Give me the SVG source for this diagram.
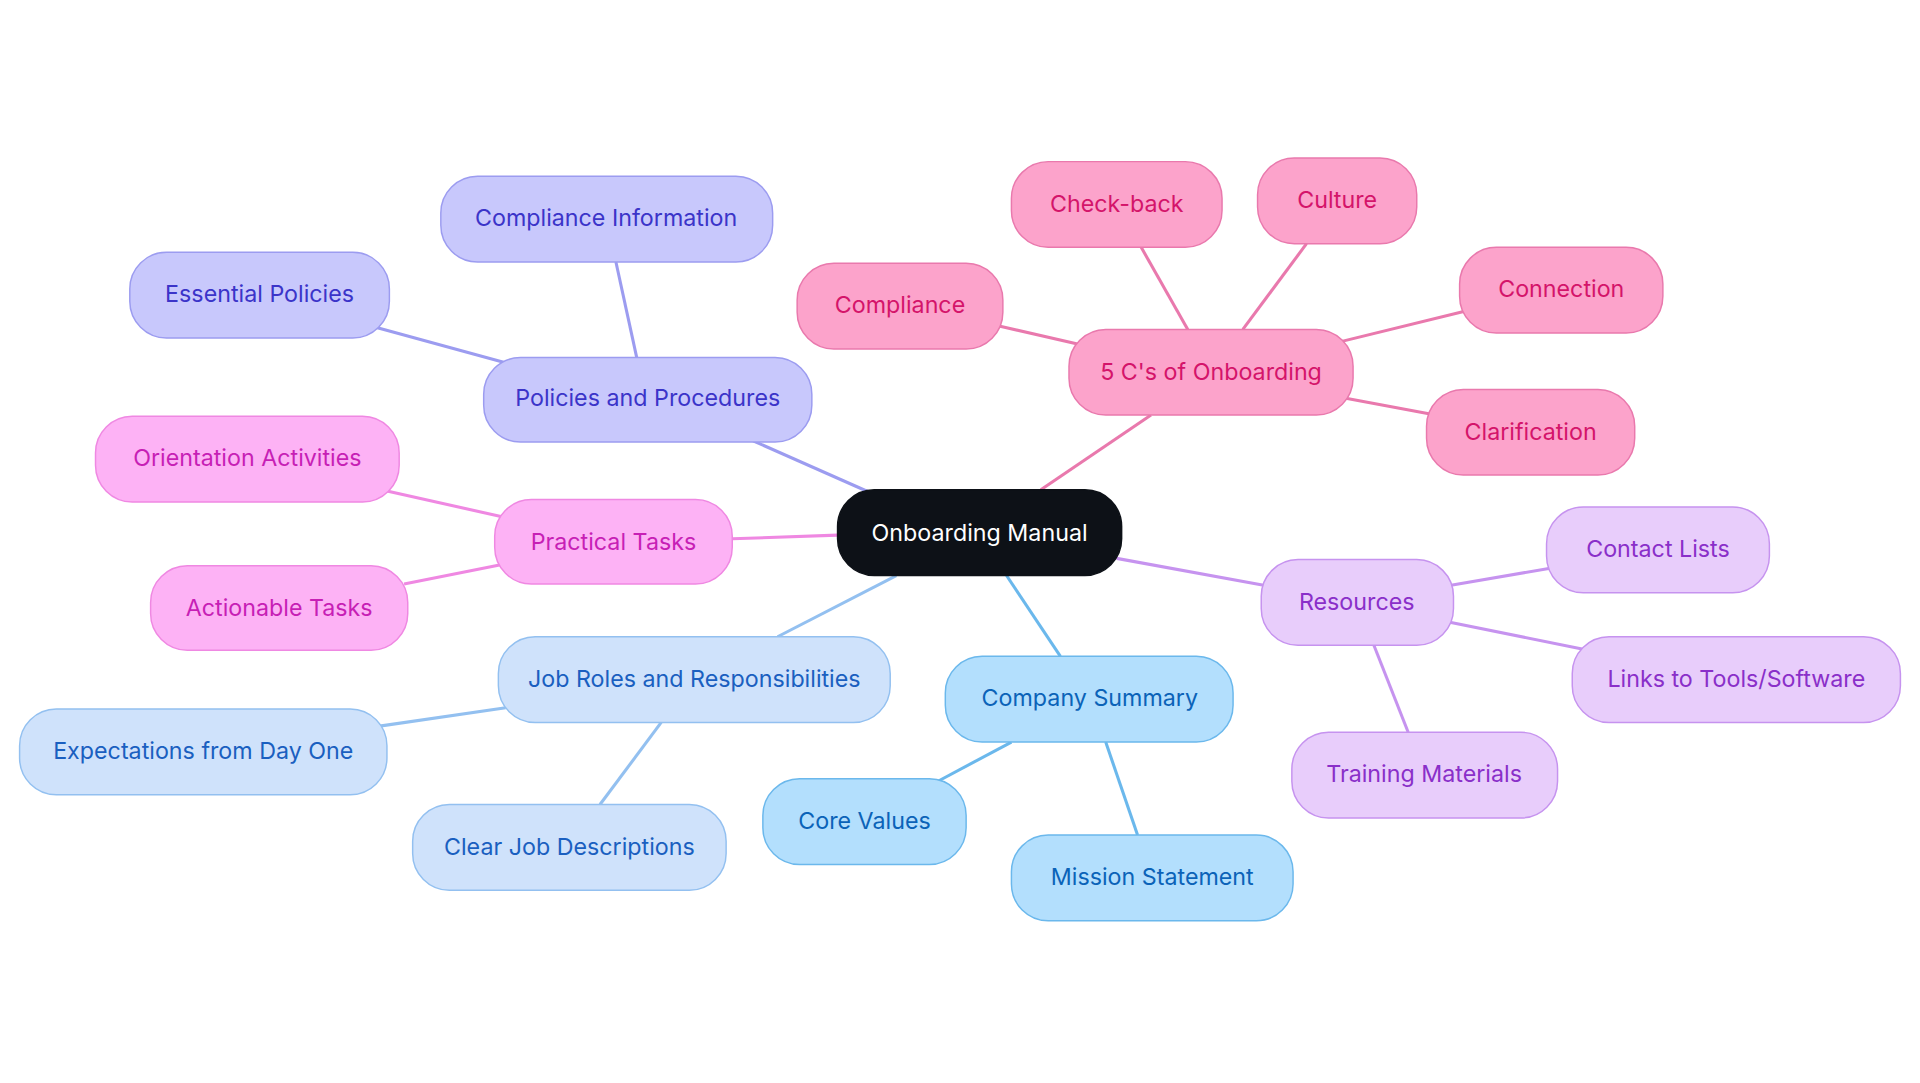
<svg xmlns="http://www.w3.org/2000/svg" width="1920" height="1083" viewBox="0 0 1920 1083">
<style>
text{font-family:Inter,"Noto Sans",sans-serif;font-size:19px;text-anchor:middle;dominant-baseline:central}
rect{stroke-width:1.2}
.c rect{fill:#0d1117;stroke:#0d1117}.c text{fill:#fff}
.p rect{fill:#c8c8fc;stroke:#9c9cf0}.p text{fill:#3b34c9}
.t rect{fill:#fdb2f5;stroke:#ef88e2}.t text{fill:#c71fb5}
.j rect{fill:#cfe2fb;stroke:#93c0f0}.j text{fill:#1a5fc0}
.s rect{fill:#b3dffd;stroke:#6bb8ec}.s text{fill:#0b63b8}
.r rect{fill:#e8cdfb;stroke:#c693ef}.r text{fill:#8a2fc9}
.f rect{fill:#fca3cb;stroke:#e979ad}.f text{fill:#d4146a}
#edges line{stroke-width:2.5}
</style>
<rect width="1920" height="1083" fill="#fff"/>
<g transform="scale(1.2245)">
<g id="edges">
<line x1="710" y1="402" x2="615" y2="360" stroke="#9c9cf0"/>
<line x1="520" y1="292" x2="503" y2="214" stroke="#9c9cf0"/>
<line x1="412" y1="296" x2="306" y2="267" stroke="#9c9cf0"/>
<line x1="684" y1="437" x2="598" y2="440" stroke="#ef88e2"/>
<line x1="410" y1="422" x2="316" y2="401" stroke="#ef88e2"/>
<line x1="410" y1="461" x2="330" y2="477" stroke="#ef88e2"/>
<line x1="732" y1="470" x2="635" y2="520" stroke="#93c0f0"/>
<line x1="413" y1="578" x2="310" y2="593" stroke="#93c0f0"/>
<line x1="540" y1="590" x2="490" y2="657" stroke="#93c0f0"/>
<line x1="822" y1="470" x2="866" y2="536" stroke="#6bb8ec"/>
<line x1="826" y1="606" x2="766" y2="638" stroke="#6bb8ec"/>
<line x1="903" y1="606" x2="929" y2="682" stroke="#6bb8ec"/>
<line x1="912" y1="456" x2="1032" y2="478" stroke="#c693ef"/>
<line x1="1185" y1="478" x2="1266" y2="464" stroke="#c693ef"/>
<line x1="1183" y1="508" x2="1292" y2="530" stroke="#c693ef"/>
<line x1="1122" y1="527" x2="1150" y2="598" stroke="#c693ef"/>
<line x1="850" y1="400" x2="940" y2="339" stroke="#e979ad"/>
<line x1="880" y1="281" x2="815" y2="266" stroke="#e979ad"/>
<line x1="970" y1="269" x2="932" y2="202" stroke="#e979ad"/>
<line x1="1015" y1="269" x2="1067" y2="199" stroke="#e979ad"/>
<line x1="1095" y1="279" x2="1197" y2="254" stroke="#e979ad"/>
<line x1="1098" y1="325" x2="1168" y2="338" stroke="#e979ad"/>
</g>
<g id="n0" class="c"><rect x="684" y="400" width="232" height="70" rx="30"/><text x="800" y="435">Onboarding Manual</text></g>
<g id="n1" class="p"><rect x="395" y="292" width="268" height="69" rx="30"/><text x="529" y="325">Policies and Procedures</text></g>
<g id="n2" class="p"><rect x="360" y="144" width="271" height="70" rx="30"/><text x="495" y="178">Compliance Information</text></g>
<g id="n3" class="p"><rect x="106" y="206" width="212" height="70" rx="30"/><text x="212" y="240">Essential Policies</text></g>
<g id="n4" class="t"><rect x="404" y="408" width="194" height="69" rx="30"/><text x="501" y="442">Practical Tasks</text></g>
<g id="n5" class="t"><rect x="78" y="340" width="248" height="70" rx="30"/><text x="202" y="374">Orientation Activities</text></g>
<g id="n6" class="t"><rect x="123" y="462" width="210" height="69" rx="30"/><text x="228" y="496">Actionable Tasks</text></g>
<g id="n7" class="j"><rect x="407" y="520" width="320" height="70" rx="30"/><text x="567" y="554">Job Roles and Responsibilities</text></g>
<g id="n8" class="j"><rect x="16" y="579" width="300" height="70" rx="30"/><text x="166" y="613">Expectations from Day One</text></g>
<g id="n9" class="j"><rect x="337" y="657" width="256" height="70" rx="30"/><text x="465" y="691">Clear Job Descriptions</text></g>
<g id="n10" class="s"><rect x="772" y="536" width="235" height="70" rx="30"/><text x="890" y="570">Company Summary</text></g>
<g id="n11" class="s"><rect x="623" y="636" width="166" height="70" rx="30"/><text x="706" y="670">Core Values</text></g>
<g id="n12" class="s"><rect x="826" y="682" width="230" height="70" rx="30"/><text x="941" y="716">Mission Statement</text></g>
<g id="n13" class="r"><rect x="1030" y="457" width="157" height="70" rx="30"/><text x="1108" y="491">Resources</text></g>
<g id="n14" class="r"><rect x="1263" y="414" width="182" height="70" rx="30"/><text x="1354" y="448">Contact Lists</text></g>
<g id="n15" class="r"><rect x="1284" y="520" width="268" height="70" rx="30"/><text x="1418" y="554">Links to Tools/Software</text></g>
<g id="n16" class="r"><rect x="1055" y="598" width="217" height="70" rx="30"/><text x="1163" y="632">Training Materials</text></g>
<g id="n17" class="f"><rect x="873" y="269" width="232" height="70" rx="30"/><text x="989" y="303">5 C's of Onboarding</text></g>
<g id="n18" class="f"><rect x="651" y="215" width="168" height="70" rx="30"/><text x="735" y="249">Compliance</text></g>
<g id="n19" class="f"><rect x="826" y="132" width="172" height="70" rx="30"/><text x="912" y="166">Check-back</text></g>
<g id="n20" class="f"><rect x="1027" y="129" width="130" height="70" rx="30"/><text x="1092" y="163">Culture</text></g>
<g id="n21" class="f"><rect x="1192" y="202" width="166" height="70" rx="30"/><text x="1275" y="236">Connection</text></g>
<g id="n22" class="f"><rect x="1165" y="318" width="170" height="70" rx="30"/><text x="1250" y="352">Clarification</text></g>
</g>
</svg>
